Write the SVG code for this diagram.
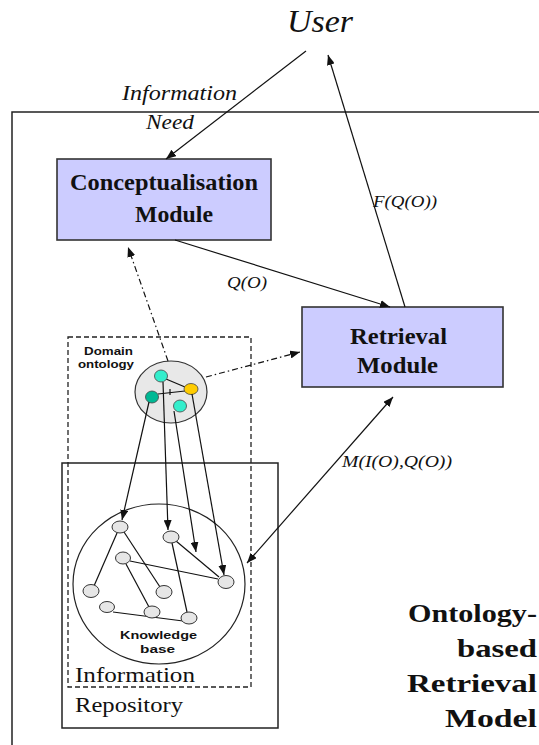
<svg xmlns="http://www.w3.org/2000/svg" width="539" height="745" viewBox="0 0 539 745">
  <style>
    .frame { fill: none; stroke: #222; stroke-width: 1.5; }
    .module rect { fill: #ccccff; stroke: #333; stroke-width: 1.6; }
    .serif { font-family: 'Liberation Serif', 'Times New Roman', serif; fill: #111; }
    .module text { font-weight: bold; font-size: 23px; }
    .lbl { font-style: italic; }
    .solid { fill: none; stroke: #111; stroke-width: 1.2; }
    .dashdot { fill: none; stroke: #111; stroke-width: 1.2; stroke-dasharray: 6 3 1.5 3; }
    .dashed { fill: none; stroke: #222; stroke-width: 1.3; stroke-dasharray: 5 3; }
    .kbnode { fill: #e6e6e6; stroke: #333; stroke-width: 1; }
    .small { font-family: 'Liberation Sans', Arial, sans-serif; font-weight: bold; font-size: 10px; fill: #111; }
    .repo { font-size: 22px; }
    .title { font-weight: bold; font-size: 25px; }
  </style>
  <defs>
    <marker id="head" viewBox="0 0 10 8" refX="10" refY="4" markerWidth="10" markerHeight="8" markerUnits="userSpaceOnUse" orient="auto-start-reverse">
      <path d="M0,0 L10,4 L0,8 z" fill="#111"/>
    </marker>
  </defs>

  <rect width="539" height="745" fill="#ffffff"/>

  <!-- system boundary -->
  <rect id="system-frame" class="frame" x="12" y="112" width="600" height="700"/>

  <!-- user -->
  <g id="user">
    <text class="serif lbl" x="287" y="32" font-size="32" textLength="66" lengthAdjust="spacingAndGlyphs">User</text>
  </g>

  <!-- information repository with domain ontology and knowledge base -->
  <g id="information-repository">
    <rect class="frame" x="62" y="463" width="216" height="265" stroke-width="1.3"/>
    <text class="serif repo" x="75" y="682" textLength="120" lengthAdjust="spacingAndGlyphs">Information</text>
    <text class="serif repo" x="75" y="712" textLength="108" lengthAdjust="spacingAndGlyphs">Repository</text>
  </g>

  <g id="ontology-region">
    <rect class="dashed" x="68" y="337" width="183" height="350"/>
    <text class="small" x="84" y="355" textLength="49" lengthAdjust="spacingAndGlyphs">Domain</text>
    <text class="small" x="78" y="368" textLength="56" lengthAdjust="spacingAndGlyphs">ontology</text>
  </g>

  <g id="domain-ontology">
    <ellipse cx="171" cy="392" rx="36" ry="31" fill="#e8e8e8" stroke="#333" stroke-width="1.2"/>
    <line class="solid" x1="166" y1="379" x2="185" y2="387"/>
    <line class="solid" x1="158" y1="394" x2="185" y2="391"/>
    <line class="solid" x1="170" y1="389" x2="170" y2="395"/>
    <ellipse cx="161" cy="376" rx="6.5" ry="6" fill="#33eecc" stroke="#444" stroke-width="0.8"/>
    <ellipse cx="191" cy="389" rx="7" ry="5.5" fill="#ffcc00" stroke="#444" stroke-width="0.8"/>
    <ellipse cx="152" cy="397" rx="6.5" ry="6" fill="#00b894" stroke="#444" stroke-width="0.8"/>
    <ellipse cx="180" cy="406" rx="6.5" ry="6" fill="#33eecc" stroke="#444" stroke-width="0.8"/>
  </g>

  <g id="knowledge-base">
    <ellipse cx="159" cy="584" rx="86" ry="80" fill="none" stroke="#222" stroke-width="1.2"/>
    <!-- internal links -->
    <line class="solid" x1="117" y1="533" x2="94" y2="586"/>
    <line class="solid" x1="124" y1="532" x2="160" y2="587"/>
    <line class="solid" x1="130" y1="561" x2="218" y2="579"/>
    <line class="solid" x1="126" y1="564" x2="149" y2="607"/>
    <line class="solid" x1="176" y1="541" x2="219" y2="577"/>
    <line class="solid" x1="172" y1="543" x2="187" y2="612"/>
    <line class="solid" x1="113" y1="612" x2="183" y2="621"/>
    <!-- concepts -->
    <ellipse class="kbnode" cx="120" cy="527" rx="8" ry="6"/>
    <ellipse class="kbnode" cx="171" cy="537" rx="8" ry="6"/>
    <ellipse class="kbnode" cx="123" cy="558" rx="7.5" ry="6"/>
    <ellipse class="kbnode" cx="226" cy="582" rx="8" ry="6.5"/>
    <ellipse class="kbnode" cx="91" cy="591" rx="8" ry="6.5"/>
    <ellipse class="kbnode" cx="164" cy="592" rx="8" ry="6.5"/>
    <ellipse class="kbnode" cx="107" cy="607" rx="7.5" ry="5.5"/>
    <ellipse class="kbnode" cx="152" cy="612" rx="8" ry="6"/>
    <ellipse class="kbnode" cx="189" cy="618" rx="8" ry="6"/>
    <text class="small" x="120" y="639" textLength="77" lengthAdjust="spacingAndGlyphs">Knowledge</text>
    <text class="small" x="140" y="653" textLength="35" lengthAdjust="spacingAndGlyphs">base</text>
  </g>

  <!-- modules -->
  <g id="conceptualisation-module" class="module">
    <rect x="57" y="159" width="214" height="81"/>
    <text class="serif" x="70" y="190" textLength="188" lengthAdjust="spacingAndGlyphs">Conceptualisation</text>
    <text class="serif" x="135" y="222" textLength="78" lengthAdjust="spacingAndGlyphs">Module</text>
  </g>

  <g id="retrieval-module" class="module">
    <rect x="302" y="307" width="201" height="80"/>
    <text class="serif" x="350" y="344" textLength="97" lengthAdjust="spacingAndGlyphs">Retrieval</text>
    <text class="serif" x="357" y="373" textLength="81" lengthAdjust="spacingAndGlyphs">Module</text>
  </g>

  <!-- connectors -->
  <g id="connectors">
    <line class="solid" x1="306" y1="51" x2="166" y2="159" marker-end="url(#head)"/>
    <line class="solid" x1="405" y1="307" x2="328" y2="55" marker-end="url(#head)"/>
    <line class="solid" x1="175" y1="240" x2="390" y2="307" stroke-width="1.5" marker-end="url(#head)"/>
    <line class="dashdot" x1="168" y1="361" x2="128" y2="247" marker-end="url(#head)"/>
    <line class="dashdot" x1="206" y1="377" x2="300" y2="352" marker-end="url(#head)"/>
    <line class="solid" x1="393" y1="397" x2="247" y2="563" marker-start="url(#head)" marker-end="url(#head)"/>
    <line class="solid" x1="149" y1="402" x2="122" y2="520" marker-end="url(#head)"/>
    <line class="solid" x1="163" y1="382" x2="168" y2="530" marker-end="url(#head)"/>
    <line class="solid" x1="174" y1="411" x2="196" y2="552" marker-end="url(#head)"/>
    <line class="solid" x1="192" y1="394" x2="224" y2="575" marker-end="url(#head)"/>
  </g>

  <!-- connector labels -->
  <g id="connector-labels">
    <text class="serif lbl" x="122" y="100" font-size="22" textLength="115" lengthAdjust="spacingAndGlyphs">Information</text>
    <text class="serif lbl" x="146" y="129" font-size="22" textLength="48" lengthAdjust="spacingAndGlyphs">Need</text>
    <text class="serif lbl" x="373" y="207" font-size="17" textLength="64" lengthAdjust="spacingAndGlyphs">F(Q(O))</text>
    <text class="serif lbl" x="227" y="288" font-size="17" textLength="40" lengthAdjust="spacingAndGlyphs">Q(O)</text>
    <text class="serif lbl" x="342" y="467" font-size="17" textLength="110" lengthAdjust="spacingAndGlyphs">M(I(O),Q(O))</text>
  </g>

  <!-- model title -->
  <g id="model-title">
    <text class="serif title" x="408" y="622" textLength="129" lengthAdjust="spacingAndGlyphs">Ontology-</text>
    <text class="serif title" x="457" y="657" textLength="80" lengthAdjust="spacingAndGlyphs">based</text>
    <text class="serif title" x="407" y="692" textLength="130" lengthAdjust="spacingAndGlyphs">Retrieval</text>
    <text class="serif title" x="445" y="727" textLength="92" lengthAdjust="spacingAndGlyphs">Model</text>
  </g>
</svg>
